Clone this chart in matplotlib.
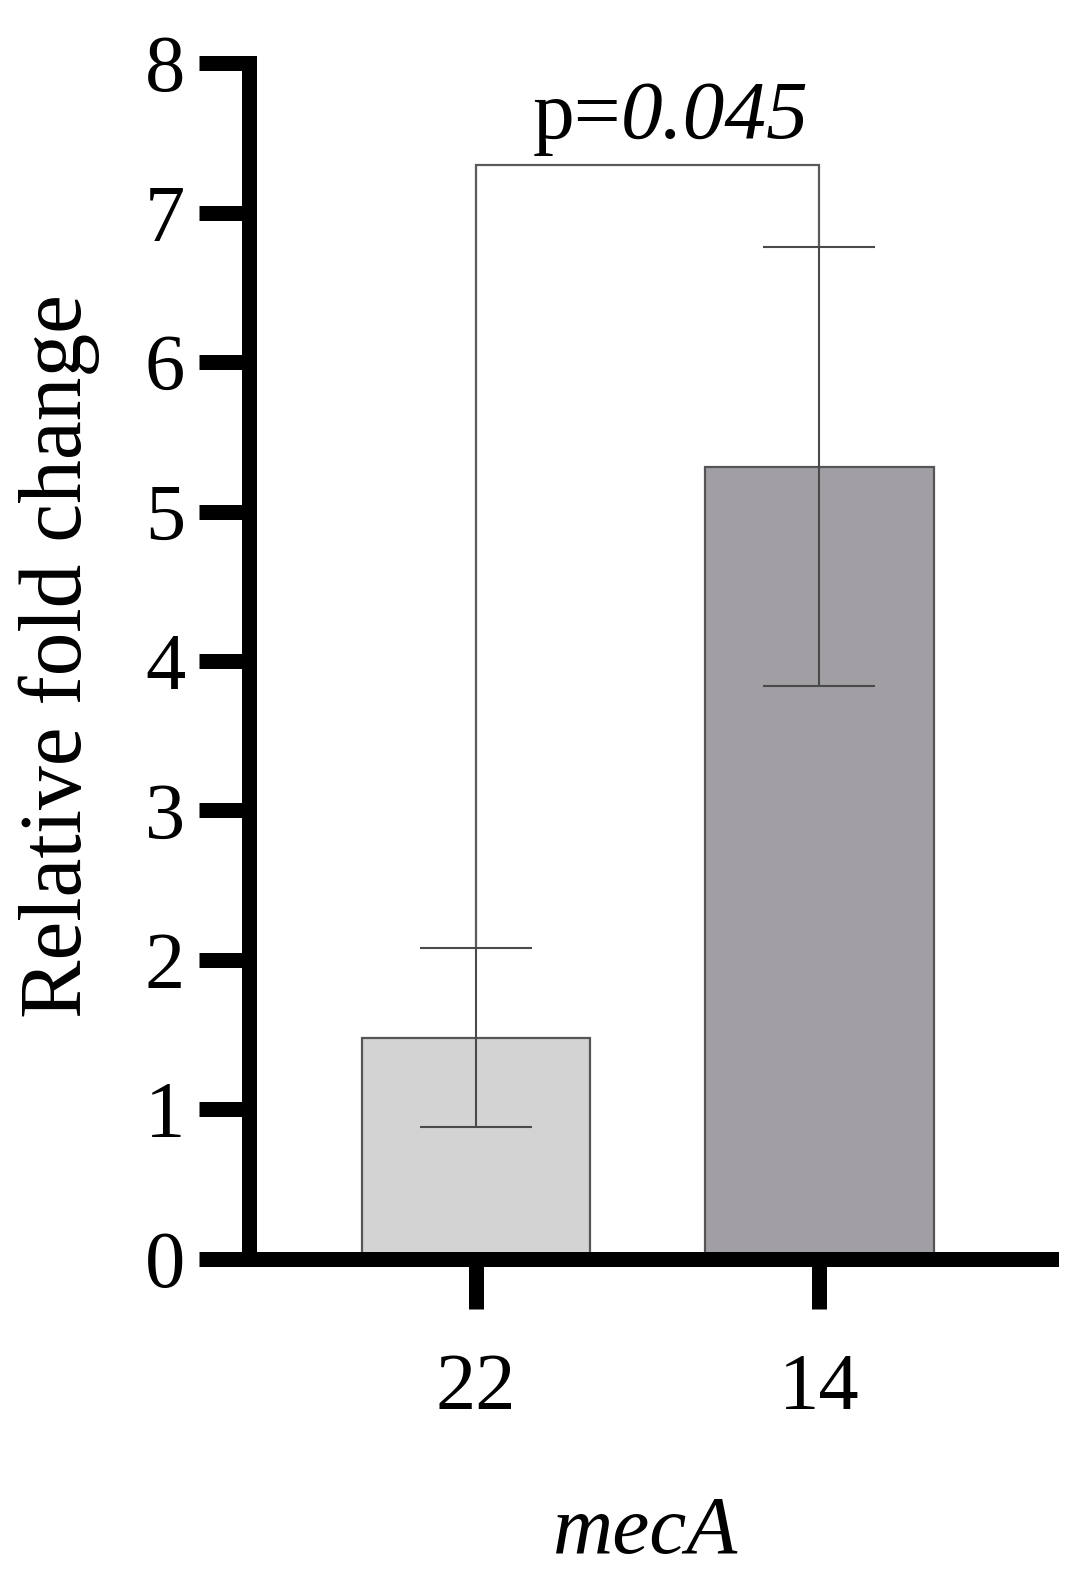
import numpy as np
import matplotlib.pyplot as plt

plt.rcParams['font.family'] = ['Liberation Serif', 'DejaVu Serif']

# data
groups = ['22', '14']
means = [1.48, 5.30]
errs = [0.60, 1.47]
bar_colors = ['#d3d3d3', '#a19fa4']
p_label = 'p='
p_value = '0.045'
bracket_y = 7.32

fig = plt.figure(figsize=(10.72, 15.92), dpi=100)
ax = fig.add_axes([0.2323, 0.2092, 0.9804 - 0.2323, 0.9604 - 0.2092])

x = np.arange(len(groups))
ax.bar(x, means, width=0.667, color=bar_colors, edgecolor='#555555',
       linewidth=1.6, zorder=2)
for i in range(len(groups)):
    ax.errorbar(x[i], means[i], yerr=errs[i], fmt='none', ecolor='#4a4a4a',
                elinewidth=1.5, capsize=40, capthick=1.5, zorder=3)

# significance bracket
tops = [means[i] + errs[i] for i in range(len(groups))]
ax.plot([x[0], x[0], x[1], x[1]], [tops[0], bracket_y, bracket_y, tops[1]],
        color='#5a5a5a', lw=1.6, zorder=1, solid_joinstyle='miter')
ax.text(0.423, bracket_y + 0.06, p_label, ha='right', va='bottom', fontsize=60)
ax.text(0.423, bracket_y + 0.06, p_value, ha='left', va='bottom', fontsize=60,
        style='italic')

ax.set_xlim(-0.662, 1.676)
ax.set_ylim(0, 8)
ax.set_yticks(range(0, 9))
ax.set_xticks(x)
ax.set_xticklabels(groups)

for s in ['top', 'right']:
    ax.spines[s].set_visible(False)
for s in ['left', 'bottom']:
    ax.spines[s].set_linewidth(10.8)
    ax.spines[s].set_capstyle('projecting')

ax.tick_params(axis='both', length=36, width=10.8, labelsize=58, direction='out')
ax.tick_params(axis='y', pad=10)
ax.tick_params(axis='x', pad=32)

fig.text(0.055, 0.588, 'Relative fold change', rotation=90, ha='center',
         va='center', fontsize=63)
fig.text(0.602, 0.037, 'mecA', style='italic', ha='center', va='center',
         fontsize=60)

fig.savefig('out.png', dpi=100)
